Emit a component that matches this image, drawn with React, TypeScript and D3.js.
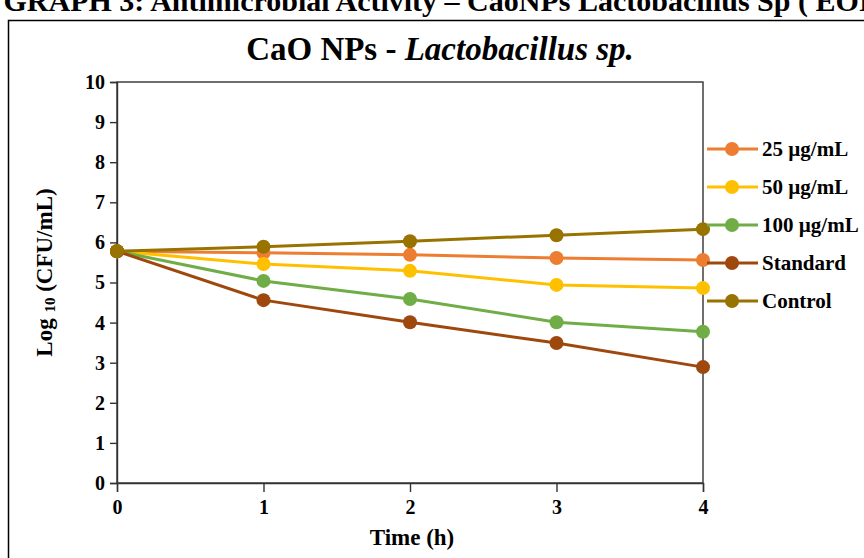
import React, { useEffect, useRef } from "react";
import * as d3 from "d3";

const times = [0, 1, 2, 3, 4];
const yTicks = [0, 1, 2, 3, 4, 5, 6, 7, 8, 9, 10];

const seriesNames = ["25 µg/mL", "50 µg/mL", "100 µg/mL", "Standard", "Control"];
const seriesColors = ["#ED7D31", "#FFC000", "#70AD47", "#9E480E", "#997300"];

const conc25 = [5.78, 5.74, 5.69, 5.61, 5.56];
const conc50 = [5.78, 5.46, 5.29, 4.94, 4.86];
const conc100 = [5.78, 5.04, 4.59, 4.01, 3.77];
const standard = [5.78, 4.56, 4.01, 3.49, 2.89];
const control = [5.78, 5.89, 6.03, 6.18, 6.33];

const seriesValues = [conc25, conc50, conc100, standard, control];

const FONT = "'Liberation Serif', 'Times New Roman', serif";

const App: React.FC = () => {
  const ref = useRef<SVGSVGElement>(null);

  useEffect(() => {
    const width = 864;
    const height = 558;
    const svg = d3.select(ref.current);
    svg.selectAll("*").remove();
    svg.attr("width", width).attr("height", height);

    svg.append("rect").attr("width", width).attr("height", height).attr("fill", "#fff");

    // caption from the page above, clipped at the top edge
    svg
      .append("text")
      .attr("x", 437)
      .attr("y", 11)
      .attr("text-anchor", "middle")
      .style("font-family", FONT)
      .style("font-weight", "bold")
      .style("font-size", "30px")
      .text("GRAPH 3: Antimicrobial Activity – CaoNPs Lactobacillus Sp ( EOI");

    // outer frame
    svg
      .append("path")
      .attr("d", `M8.5,${height + 2} V20.5 H${width + 2}`)
      .attr("fill", "none")
      .attr("stroke", "#000")
      .attr("stroke-width", 1.5);

    const left = 117;
    const right = 703;
    const top = 82;
    const bottom = 483;

    const x = d3.scaleLinear().domain([0, 4]).range([left, right]);
    const y = d3.scaleLinear().domain([0, 10]).range([bottom, top]);

    // title
    const title = svg
      .append("text")
      .attr("x", 440)
      .attr("y", 60)
      .attr("text-anchor", "middle")
      .style("font-family", FONT)
      .style("font-weight", "bold")
      .style("font-size", "33px");
    title.append("tspan").text("CaO NPs - ");
    title.append("tspan").style("font-style", "italic").text("Lactobacillus sp.");

    // plot frame
    svg
      .append("rect")
      .attr("x", left)
      .attr("y", top)
      .attr("width", right - left)
      .attr("height", bottom - top)
      .attr("fill", "none")
      .attr("stroke", "#333")
      .attr("stroke-width", 1.4);

    const yAxis = svg
      .append("g")
      .attr("transform", `translate(${left},0)`)
      .call(d3.axisLeft(y).tickValues(yTicks).tickSize(7).tickPadding(5).tickFormat(d3.format("d")));
    const xAxis = svg
      .append("g")
      .attr("transform", `translate(0,${bottom})`)
      .call(d3.axisBottom(x).tickValues(times).tickSize(9).tickPadding(8).tickFormat(d3.format("d")));

    [yAxis, xAxis].forEach((a) => {
      a.select(".domain").attr("stroke", "#333").attr("stroke-width", 1.4);
      a.selectAll(".tick line").attr("stroke", "#333").attr("stroke-width", 1.4);
      a.selectAll(".tick text")
        .attr("fill", "#000")
        .style("font-family", FONT)
        .style("font-weight", "bold")
        .style("font-size", "20px");
    });

    // axis labels
    const yLabel = svg
      .append("text")
      .attr("transform", `translate(52,${(top + bottom) / 2 - 10}) rotate(-90)`)
      .attr("text-anchor", "middle")
      .style("font-family", FONT)
      .style("font-weight", "bold")
      .style("font-size", "23px");
    yLabel.append("tspan").text("Log ");
    yLabel.append("tspan").style("font-size", "15px").attr("dy", 3).text("10");
    yLabel.append("tspan").attr("dy", -3).text(" (CFU/mL)");

    svg
      .append("text")
      .attr("x", x(2) + 2)
      .attr("y", 545)
      .attr("text-anchor", "middle")
      .style("font-family", FONT)
      .style("font-weight", "bold")
      .style("font-size", "23px")
      .text("Time (h)");

    // series
    const line = d3
      .line<number>()
      .x((_, i) => x(times[i]))
      .y((d) => y(d));

    seriesValues.forEach((vals, si) => {
      const g = svg.append("g");
      g.append("path")
        .attr("d", line(vals))
        .attr("fill", "none")
        .attr("stroke", seriesColors[si])
        .attr("stroke-width", 3);
      g.selectAll("circle")
        .data(vals)
        .enter()
        .append("circle")
        .attr("cx", (_, i) => x(times[i]))
        .attr("cy", (d) => y(d))
        .attr("r", 7)
        .attr("fill", seriesColors[si]);
    });

    // legend
    const legend = svg.append("g").attr("transform", "translate(707,149)");
    seriesNames.forEach((name, i) => {
      const row = legend.append("g").attr("transform", `translate(0,${i * 38})`);
      row.append("line").attr("x1", 0).attr("x2", 51).attr("stroke", seriesColors[i]).attr("stroke-width", 3);
      row.append("circle").attr("cx", 25).attr("r", 7).attr("fill", seriesColors[i]);
      row
        .append("text")
        .attr("x", 55)
        .attr("dy", "0.35em")
        .style("font-family", FONT)
        .style("font-weight", "bold")
        .style("font-size", "21px")
        .text(name);
    });
  }, []);

  return <svg ref={ref} style={{ position: "absolute", left: 0, top: 0 }}></svg>;
};

export default App;
